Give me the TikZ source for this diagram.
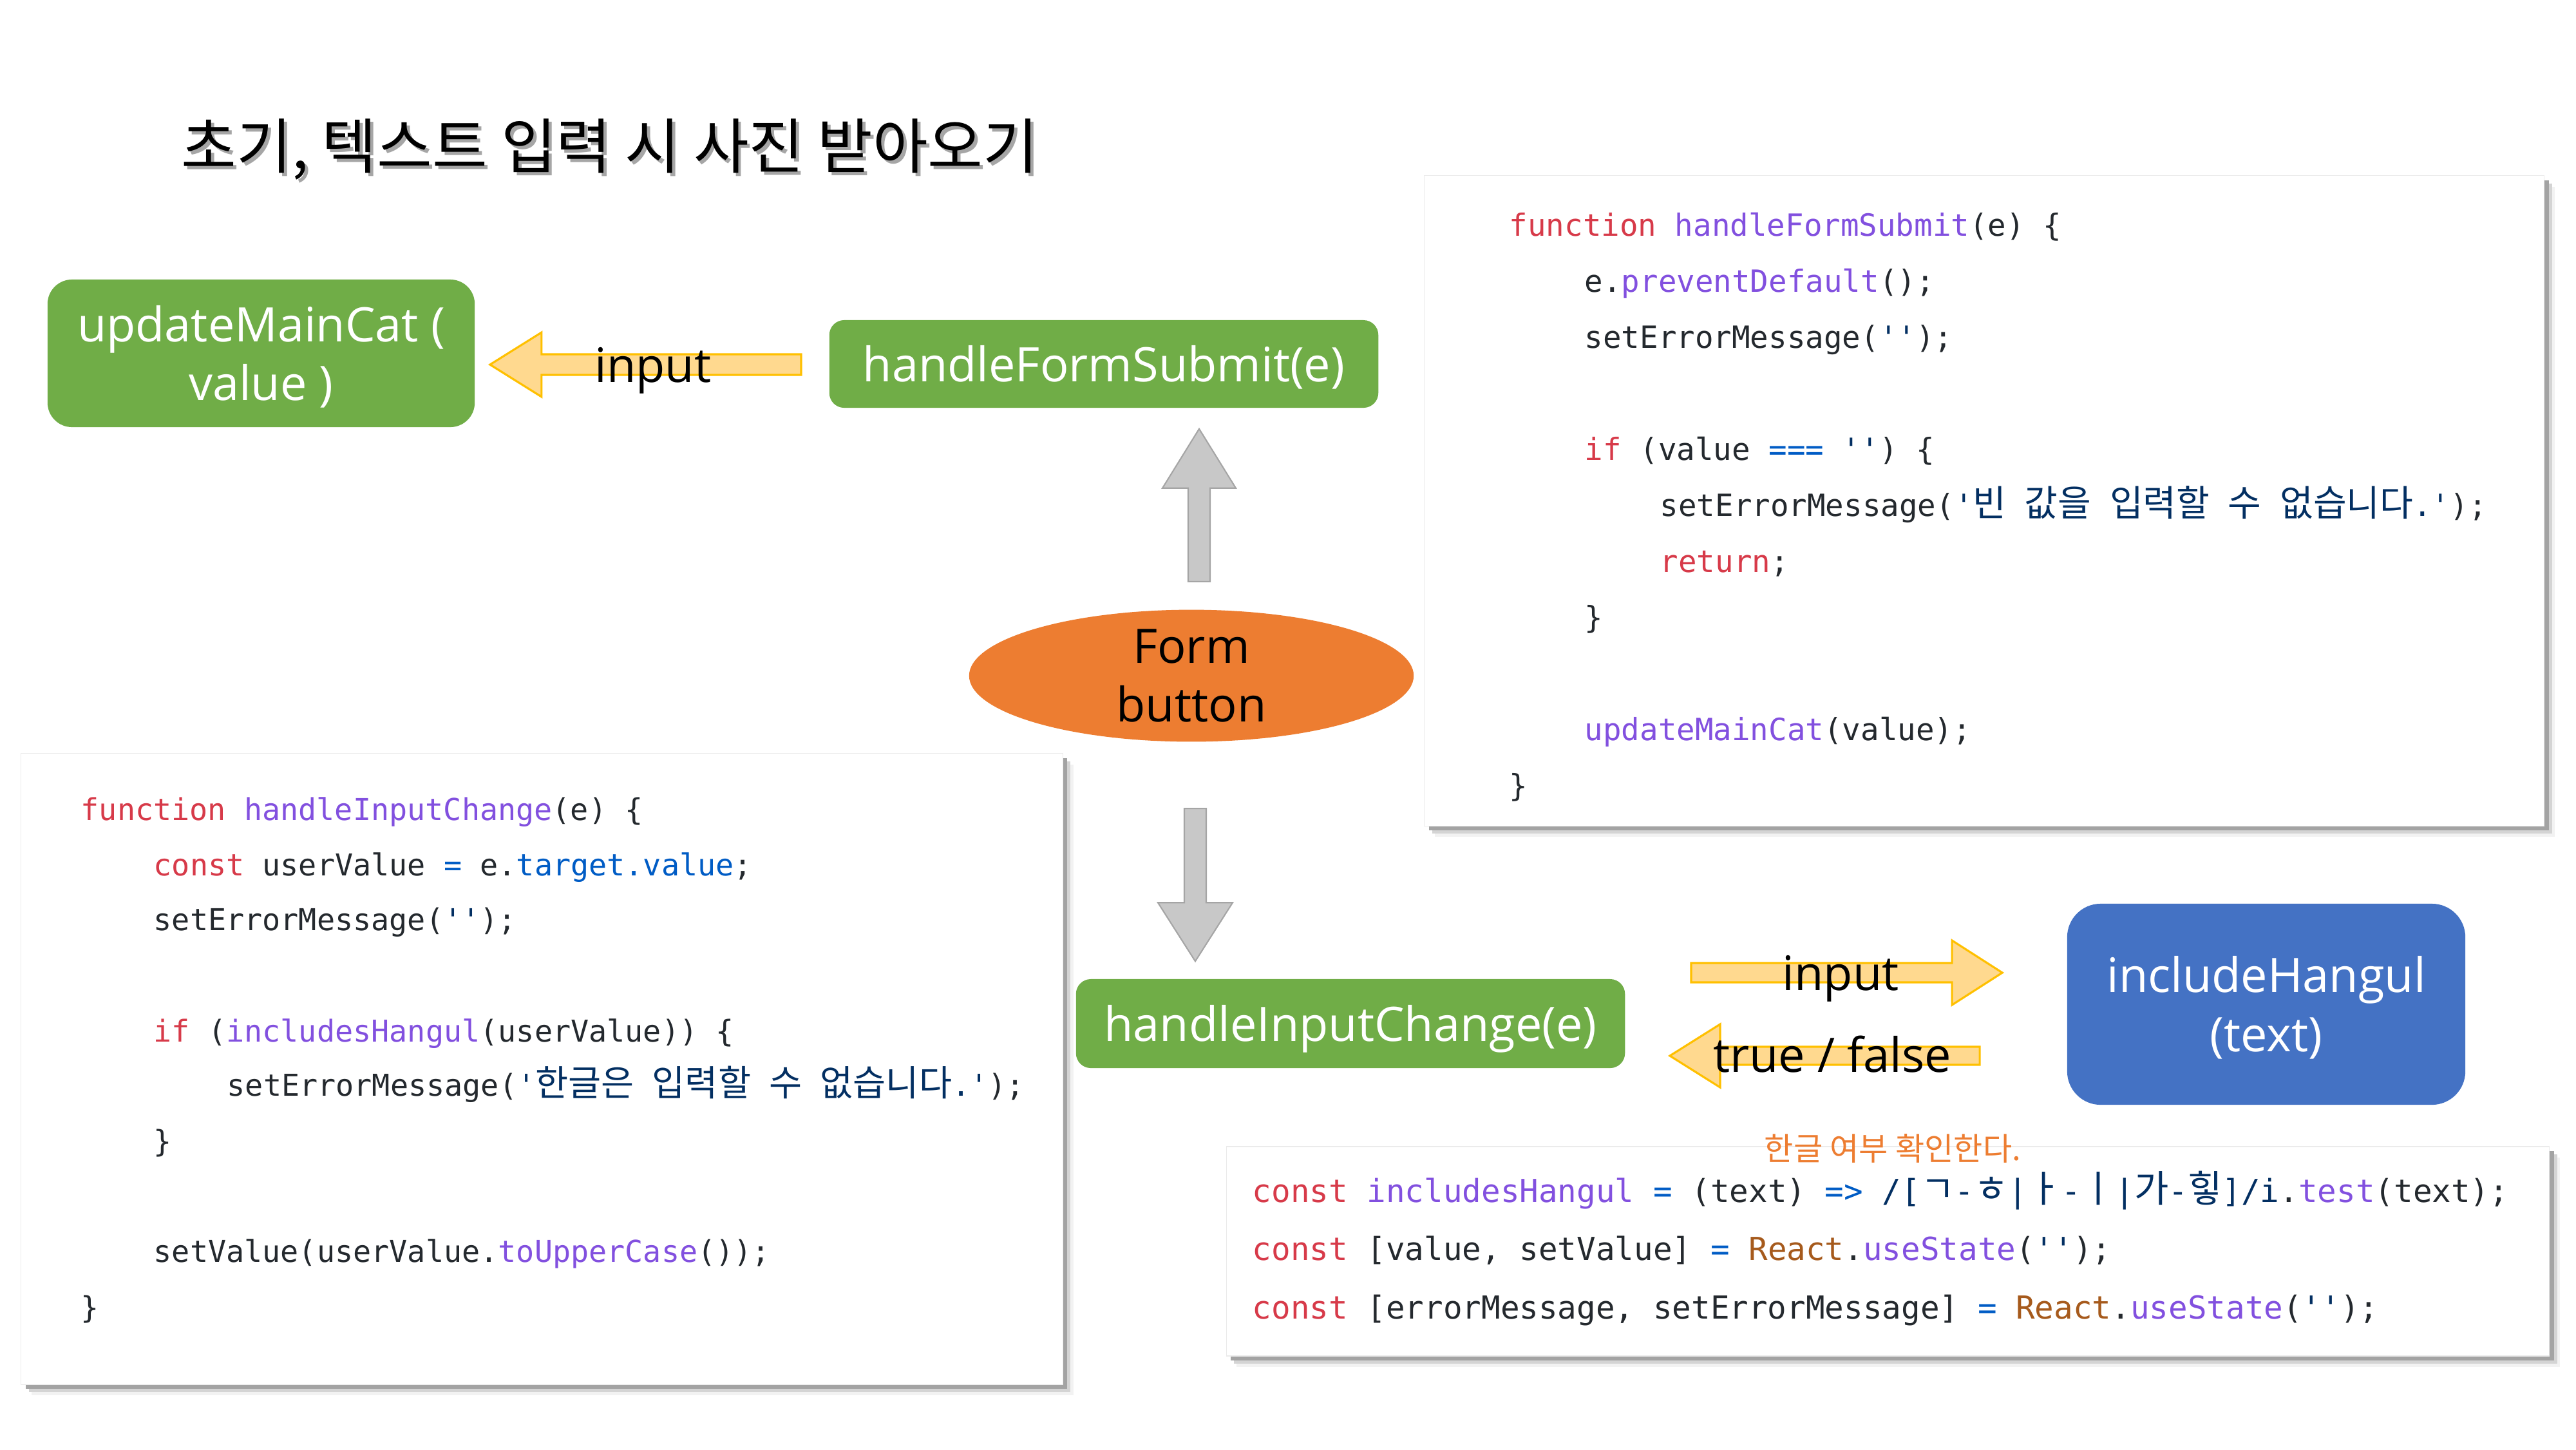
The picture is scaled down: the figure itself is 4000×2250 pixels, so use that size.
\documentclass[tikz,border=0pt]{standalone}
\usepackage{fontspec}
\usetikzlibrary{calc,shapes.geometric,shadows}

\newfontfamily\krfont{Noto Sans CJK KR}
\newfontfamily\labelfont{Open Sans}
\newfontfamily\codefont{DejaVu Sans Mono}

\definecolor{boxgreen}{HTML}{70AD47}
\definecolor{boxblue}{HTML}{4472C4}
\definecolor{boxorange}{HTML}{ED7D31}
\definecolor{arrowgray}{HTML}{C8C8C8}
\definecolor{arrowgrayline}{HTML}{A5A5A5}
\definecolor{arrowyellow}{HTML}{FFD98F}
\definecolor{arrowgold}{HTML}{FFC000}
\definecolor{kwred}{HTML}{D73A49}
\definecolor{fnpurple}{HTML}{8250DF}
\definecolor{opblue}{HTML}{005CC5}
\definecolor{strnavy}{HTML}{032F62}
\definecolor{objbrown}{HTML}{A65A1C}
\definecolor{plaincode}{HTML}{24292E}
\definecolor{notecolor}{HTML}{ED7D31}

% syntax colouring helpers for the code listings
\newcommand\cKw[1]{\textcolor{kwred}{#1}}
\newcommand\cFn[1]{\textcolor{fnpurple}{#1}}
\newcommand\cOp[1]{\textcolor{opblue}{#1}}
\newcommand\cStr[1]{\textcolor{strnavy}{#1}}
\newcommand\cProp[1]{\textcolor{opblue}{#1}}
\newcommand\cObj[1]{\textcolor{objbrown}{#1}}
% Hangul inside a listing; its size is set per listing
\newcommand\krsize{16}
\newcommand\cKr[1]{{\krfont\fontsize{\krsize}{18}\selectfont #1}}
% box captions sit a little below the geometric centre
\newcommand\lowertext[1]{\raisebox{-0.09cm}[\height][\depth]{\begin{tabular}{@{}c@{}}#1\end{tabular}}}

% horizontal block arrow: style, tip, tail (same y), head length, head half width, shaft half width
\newcommand\hblock[6]{%
  \draw[#1] (#2) -- ($(#2)+(#4,-#5)$) -- ($(#2)+(#4,-#6)$) -- ($(#3)+(0,-#6)$)
    -- ($(#3)+(0,#6)$) -- ($(#2)+(#4,#6)$) -- ($(#2)+(#4,#5)$) -- cycle;}
% vertical block arrow: style, tip, tail (same x), head length, head half width, shaft half width
\newcommand\vblock[6]{%
  \draw[#1] (#2) -- ($(#2)+(-#5,#4)$) -- ($(#2)+(-#6,#4)$) -- ($(#3)+(-#6,0)$)
    -- ($(#3)+(#6,0)$) -- ($(#2)+(#6,#4)$) -- ($(#2)+(#5,#4)$) -- cycle;}

\tikzset{
  funcbox/.style={rectangle, rounded corners=#1, fill=boxgreen, text=white,
    font=\labelfont\fontsize{21}{26}\selectfont, align=center, inner sep=0},
  arrowlabel/.style={font=\labelfont\fontsize{21}{26}\selectfont, text=black, inner sep=0},
  yarrow/.style={fill=arrowyellow, draw=arrowgold, line width=0.9pt, line join=miter},
  garrow/.style={fill=arrowgray, draw=arrowgrayline, line width=0.6pt, line join=miter},
  codebox/.style={rectangle, fill=white, draw=black!8, line width=0.4pt, inner sep=0,
    general shadow={fill=black!5, shadow xshift=0.16cm, shadow yshift=-0.17cm},
    general shadow={fill=black!17, shadow xshift=0.12cm, shadow yshift=-0.12cm},
    general shadow={fill=black!36, shadow xshift=0.07cm, shadow yshift=-0.07cm}},
  codeline/.style={anchor=base west, inner sep=0, text=plaincode,
    font=\codefont\fontsize{#1}{16}\selectfont},
  codeline/.default=13.5,
  titletext/.style={anchor=west, inner sep=0, font=\krfont\fontsize{26.5}{30}\selectfont},
}

\begin{document}
\begin{tikzpicture}[x=0.01cm, y=-0.01cm]
\fill[white] (0,0) rectangle (4000,2250);
\useasboundingbox (0,0) rectangle (4000,2250);

% title with its soft shadow
\node[titletext, text=black!35] (titleshadow) at (286,237) {초기, 텍스트 입력 시 사진 받아오기};
\node[titletext, text=black] (title) at (281,232) {초기, 텍스트 입력 시 사진 받아오기};

% code listings
\node[codebox, minimum width=17.38cm, minimum height=10.09cm] (code1) at (3081,777.5) {};
\node[codebox, minimum width=16.17cm, minimum height=9.79cm] (code2) at (841.5,1659.5) {};
\node[codebox, minimum width=20.53cm, minimum height=3.25cm] (code3) at (2931.5,1942.5) {};

% handleFormSubmit
\renewcommand\krsize{16}
\node[codeline] (c1a) at (2343,366) {\cKw{function} \cFn{handleFormSubmit}(e) \{};
\node[codeline] (c1b) at (2460,453) {e.\cFn{preventDefault}();};
\node[codeline] (c1c) at (2460,540) {setErrorMessage(\cStr{''});};
\node[codeline] (c1d) at (2460,714) {\cKw{if} (value \cOp{===} \cStr{''}) \{};
\node[codeline] (c1e) at (2577,801) {setErrorMessage(\cStr{'\cKr{빈} \cKr{값을} \cKr{입력할} \cKr{수} \cKr{없습니다}.'});};
\node[codeline] (c1f) at (2577,888) {\cKw{return};};
\node[codeline] (c1g) at (2460,975) {\}};
\node[codeline] (c1h) at (2460,1149) {\cFn{updateMainCat}(value);};
\node[codeline] (c1i) at (2343,1236) {\}};

% handleInputChange
\renewcommand\krsize{15.8}
\node[codeline=13.3] (c2a) at (125,1273) {\cKw{function} \cFn{handleInputChange}(e) \{};
\node[codeline=13.3] (c2b) at (238,1359) {\cKw{const} userValue \cOp{=} e.\cProp{target.value};};
\node[codeline=13.3] (c2c) at (238,1444) {setErrorMessage(\cStr{''});};
\node[codeline=13.3] (c2d) at (238,1617) {\cKw{if} (\cFn{includesHangul}(userValue)) \{};
\node[codeline=13.3] (c2e) at (352,1701) {setErrorMessage(\cStr{'\cKr{한글은} \cKr{입력할} \cKr{수} \cKr{없습니다}.'});};
\node[codeline=13.3] (c2f) at (238,1788) {\}};
\node[codeline=13.3] (c2g) at (238,1959) {setValue(userValue.\cFn{toUpperCase}());};
\node[codeline=13.3] (c2h) at (125,2046) {\}};

% helpers and state
\renewcommand\krsize{16.5}
\node[codeline=14] (c3a) at (1944,1866) {\cKw{const} \cFn{includesHangul} \cOp{=} (text) \cOp{=>} \cStr{/[\cKr{ㄱ}-\cKr{ㅎ}|\cKr{ㅏ}-\cKr{ㅣ}|\cKr{가}-\cKr{힣}]/i}.\cFn{test}(text);};
\node[codeline=14] (c3b) at (1944,1956) {\cKw{const} [value, setValue] \cOp{=} \cObj{React}.\cFn{useState}(\cStr{''});};
\node[codeline=14] (c3c) at (1944,2047) {\cKw{const} [errorMessage, setErrorMessage] \cOp{=} \cObj{React}.\cFn{useState}(\cStr{''});};

\node[inner sep=0, text=notecolor, font=\krfont\fontsize{14}{16}\selectfont] (note) at (2939,1783) {한글 여부 확인한다.};

% function boxes and the form button
\node[funcbox=0.38cm, minimum width=6.63cm, minimum height=2.29cm] (umc) at (405.5,548.5) {\lowertext{updateMainCat (\\value )}};
\node[funcbox=0.23cm, minimum width=8.52cm, minimum height=1.36cm] (hfs) at (1714,565) {\lowertext{handleFormSubmit(e)}};
\node[ellipse, fill=boxorange, minimum width=6.9cm, minimum height=1.86cm, inner sep=0,
      align=center, text=black, font=\labelfont\fontsize{21}{26}\selectfont] (btn) at (1850,1049) {Form\\button};
\node[funcbox=0.23cm, minimum width=8.52cm, minimum height=1.38cm] (hic) at (2097,1589) {\lowertext{handleInputChange(e)}};
\node[funcbox=0.52cm, fill=boxblue, minimum width=6.18cm, minimum height=3.12cm] (inc) at (3519,1559) {\lowertext{includeHangul\\(text)}};

% connectors
\coordinate (a1tip) at ($(umc.east)+(23,17.5)$);
\coordinate (a1tail) at ($(hfs.west)+(-43,1)$);
\coordinate (a1end) at (a1tail |- a1tip);
\hblock{yarrow}{a1tip}{a1end}{80}{50}{16}

\coordinate (a2tip) at ($(hfs.south)+(148,32)$);
\coordinate (a2tail) at ($(btn.north)+(12,-43)$);
\coordinate (a2end) at (a2tip |- a2tail);
\vblock{garrow}{a2tip}{a2end}{92}{57}{17}

\coordinate (a3tip) at ($(hic.north)+(-241,-27)$);
\coordinate (a3tail) at ($(btn.south)+(6,103)$);
\coordinate (a3end) at (a3tip |- a3tail);
\vblock{garrow}{a3tip}{a3end}{-91}{58}{17}

\coordinate (a4tip) at ($(inc.west)+(-100,-49)$);
\coordinate (a4tail) at ($(hic.east)+(102,-79)$);
\coordinate (a4end) at (a4tail |- a4tip);
\hblock{yarrow}{a4tip}{a4end}{-78}{50}{15}

\coordinate (a5tip) at ($(hic.east)+(69,50)$);
\coordinate (a5tail) at ($(inc.west)+(-135,80)$);
\coordinate (a5end) at (a5tail |- a5tip);
\hblock{yarrow}{a5tip}{a5end}{78}{49}{14}

% connector labels
\node[arrowlabel, anchor=base] (lblsubmit) at (1014,593) {input};
\node[arrowlabel, anchor=base] (lblinput) at (2858,1537) {input};
\node[arrowlabel, anchor=base] (lblresult) at (2845,1664) {true / false};
\end{tikzpicture}
\end{document}
